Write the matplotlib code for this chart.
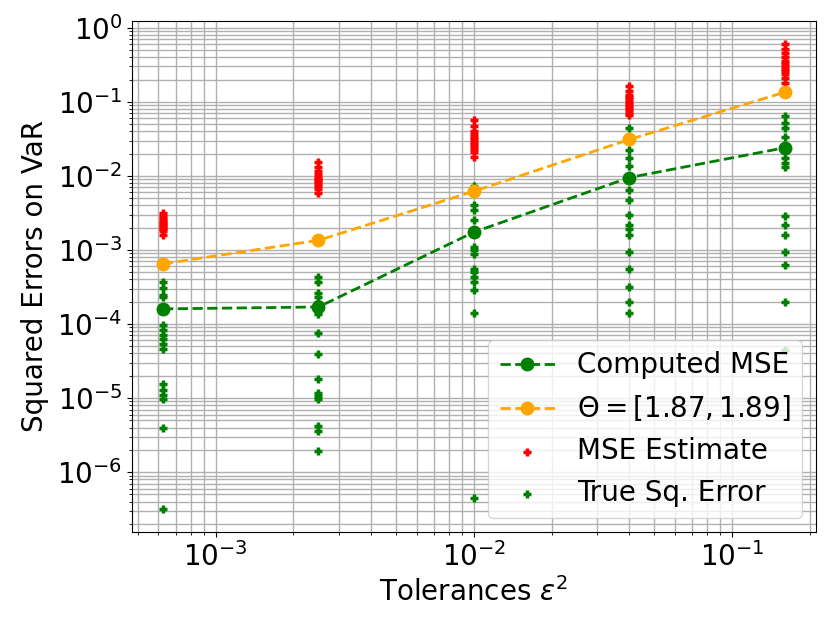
import numpy as np
import matplotlib
matplotlib.use("Agg")
import matplotlib.pyplot as plt

# tolerances eps^2
tolerances = [0.000625, 0.0025, 0.01, 0.04, 0.16]

# computed MSE and theoretical curve
computed_mse = [1.6e-4, 1.7e-4, 1.74e-3, 9.5e-3, 0.024]
theta_curve = [6.5e-4, 1.35e-3, 6.2e-3, 0.031, 0.135]

# MSE estimates per tolerance
mse_est_1 = [3.2e-3, 2.9e-3, 2.7e-3, 2.5e-3, 2.4e-3, 2.3e-3, 2.2e-3, 2.1e-3, 2.0e-3, 1.9e-3, 1.8e-3, 1.6e-3]
mse_est_2 = [0.0155, 0.013, 0.0115, 0.0105, 0.0098, 0.0092, 0.0087, 0.0082, 0.0077, 0.0072, 0.0066, 0.0058]
mse_est_3 = [0.056, 0.047, 0.041, 0.037, 0.034, 0.031, 0.029, 0.027, 0.025, 0.023, 0.021, 0.018]
mse_est_4 = [0.165, 0.14, 0.125, 0.115, 0.108, 0.1, 0.094, 0.088, 0.082, 0.077, 0.071, 0.066]
mse_est_5 = [0.6, 0.52, 0.45, 0.4, 0.36, 0.33, 0.3, 0.28, 0.26, 0.24, 0.21, 0.18]

# true squared errors per tolerance
true_err_1 = [3.7e-4, 3.1e-4, 2.5e-4, 2.3e-4, 1.6e-4, 9.6e-5, 8.4e-5, 7.2e-5, 6.3e-5, 5.4e-5, 4.6e-5,
              1.55e-5, 1.3e-5, 1.1e-5, 9.7e-6, 4.0e-6, 3.2e-7]
true_err_2 = [4.3e-4, 3.7e-4, 2.6e-4, 2.3e-4, 2.0e-4, 1.7e-4, 1.5e-4, 1.35e-4, 7.5e-5, 3.9e-5,
              1.8e-5, 1.17e-5, 1.07e-5, 9.7e-6, 4.2e-6, 3.6e-6, 1.9e-6]
true_err_3 = [7.4e-3, 6.4e-3, 4.1e-3, 3.5e-3, 2.5e-3, 1.74e-3, 1.1e-3, 1.0e-3, 8.8e-4, 5.5e-4,
              5.0e-4, 4.3e-4, 3.7e-4, 2.9e-4, 1.4e-4, 4.5e-7]
true_err_4 = [0.045, 0.0225, 0.0177, 0.0138, 9.5e-3, 6.4e-3, 4.7e-3, 3.0e-3, 2.15e-3, 1.9e-3,
              1.6e-3, 9.3e-4, 5.5e-4, 3.2e-4, 2.0e-4, 1.4e-4]
true_err_5 = [0.064, 0.052, 0.045, 0.033, 0.024, 0.0177, 0.015, 0.013, 2.9e-3, 2.15e-3, 1.58e-3,
              9.3e-4, 6.3e-4, 2.0e-4, 4.5e-5]

mse_estimates = [mse_est_1, mse_est_2, mse_est_3, mse_est_4, mse_est_5]
true_errors = [true_err_1, true_err_2, true_err_3, true_err_4, true_err_5]

plt.rcParams['font.size'] = 20

fig = plt.figure(figsize=(8.31, 6.24), dpi=100)
ax = fig.add_axes([0.1588, 0.1474, 0.823, 0.819])

ax.plot(tolerances, computed_mse, 'o--', color='green', lw=2, ms=9, label='Computed MSE', zorder=3)
ax.plot(tolerances, theta_curve, 'o--', color='orange', lw=2, ms=9, label=r'$\Theta=[1.87, 1.89]$', zorder=3)

for i, tol in enumerate(tolerances):
    ax.scatter([tol] * len(mse_estimates[i]), mse_estimates[i], marker='+', color='red',
               s=40, linewidths=2.5, label='MSE Estimate' if i == 0 else None, zorder=2)
for i, tol in enumerate(tolerances):
    ax.scatter([tol] * len(true_errors[i]), true_errors[i], marker='+', color='green',
               s=40, linewidths=2.5, label='True Sq. Error' if i == 0 else None, zorder=2)

ax.set_xscale('log')
ax.set_yscale('log')
ax.grid(True, which='both', color='#b0b0b0', lw=1)
ax.set_xlabel(r'Tolerances $\varepsilon^2$')
ax.set_ylabel('Squared Errors on VaR', labelpad=6)
ax.legend(loc='lower right', scatterpoints=1)

fig.savefig('out.png', dpi=100)
